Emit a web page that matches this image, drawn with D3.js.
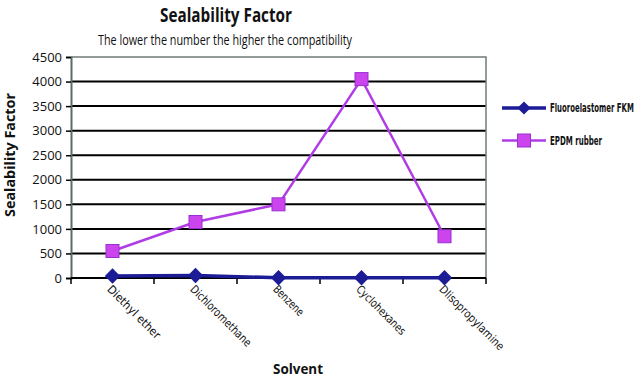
<!DOCTYPE html>
<html>
<head>
<meta charset="utf-8">
<script src="https://cdn.jsdelivr.net/npm/d3@7"></script>
<style>
  body { margin: 0; background: #fff; }
  svg { display: block; }
</style>
</head>
<body>
<div id="chart"></div>
<script>
// data
var solvents = ["Diethyl ether", "Dichloromethane", "Benzene", "Cyclohexanes", "DIisopropylamine"];
var fkmValues = [40, 50, 5, 5, 5];
var epdmValues = [550, 1140, 1500, 4050, 850];
var yTicks = [0, 500, 1000, 1500, 2000, 2500, 3000, 3500, 4000, 4500];
var seriesNames = ["Fluoroelastomer FKM", "EPDM rubber"];

var W = 640, H = 384;
var plot = {left: 71, right: 486, top: 57, bottom: 278};
var font = "'Open Sans', 'Noto Sans', sans-serif";
var narrow = "'DejaVu Sans Condensed', 'Open Sans', sans-serif";

var svg = d3.select("#chart").append("svg")
    .attr("width", W).attr("height", H);

var x = d3.scaleBand().domain(solvents).range([plot.left, plot.right]).padding(0);
var y = d3.scaleLinear().domain([0, 4500]).range([plot.bottom, plot.top]);

// squeeze a text to a width like the condensed face in the reference
function squeeze(sel, w) {
    sel.attr("textLength", w).attr("lengthAdjust", "spacingAndGlyphs");
}

// gridlines
svg.append("g").selectAll("line").data(yTicks.slice(1, -1)).join("line")
    .attr("x1", plot.left).attr("x2", plot.right)
    .attr("y1", function (d) { return y(d); }).attr("y2", function (d) { return y(d); })
    .attr("stroke", "#000").attr("stroke-width", 2);

// top & right border
svg.append("path")
    .attr("d", "M" + plot.left + "," + y(4500) + "H" + plot.right + "V" + plot.bottom)
    .attr("fill", "none").attr("stroke", "#6f7a7a").attr("stroke-width", 1.5);

// y axis
var yAxis = svg.append("g")
    .attr("transform", "translate(" + plot.left + ",0)")
    .call(d3.axisLeft(y).tickValues(yTicks).tickFormat(d3.format("d")).tickSize(5).tickPadding(4));
yAxis.select(".domain").attr("stroke", "#5f6b6b").attr("stroke-width", 2);
yAxis.selectAll(".tick line").attr("stroke", "#000").attr("stroke-width", 1.5);
yAxis.selectAll("text").attr("font-family", font).attr("font-size", 13).attr("fill", "#111");

// x axis: base line at zero plus ticks between categories
svg.append("line")
    .attr("x1", plot.left).attr("x2", plot.right)
    .attr("y1", y(0)).attr("y2", y(0))
    .attr("stroke", "#000").attr("stroke-width", 2);
var bounds = solvents.map(function (d) { return x(d); }).concat([plot.right]);
svg.append("g").selectAll("line").data(bounds).join("line")
    .attr("x1", function (d) { return d; }).attr("x2", function (d) { return d; })
    .attr("y1", y(0)).attr("y2", y(0) + 6)
    .attr("stroke", "#000").attr("stroke-width", 1.5);

svg.append("g").selectAll("text").data(solvents).join("text")
    .attr("transform", function (d) {
        return "translate(" + (x(d) + x.bandwidth() / 2 - 6) + "," + (y(0) + 12) + ") rotate(45)";
    })
    .attr("font-family", narrow).attr("font-size", 11.5).attr("fill", "#111")
    .each(function (d) { squeeze(d3.select(this), d.length * 5.4); })
    .text(function (d) { return d; });

// series
var cx = function (d, i) { return x(solvents[i]) + x.bandwidth() / 2; };
var line = d3.line().x(cx).y(function (d) { return y(d); });

svg.append("path").datum(epdmValues)
    .attr("d", line).attr("fill", "none")
    .attr("stroke", "#b03ce6").attr("stroke-width", 2.5);
svg.append("g").selectAll("rect").data(epdmValues).join("rect")
    .attr("x", function (d, i) { return cx(d, i) - 6.5; })
    .attr("y", function (d) { return y(d) - 6.5; })
    .attr("width", 13).attr("height", 13)
    .attr("fill", "#cc44ee").attr("stroke", "#9a2fd0").attr("stroke-width", 1);

svg.append("path").datum(fkmValues)
    .attr("d", line).attr("fill", "none")
    .attr("stroke", "#1c1c96").attr("stroke-width", 3.5);
svg.append("g").selectAll("path").data(fkmValues).join("path")
    .attr("d", d3.symbol(d3.symbolDiamond2, 150))
    .attr("transform", function (d, i) { return "translate(" + cx(d, i) + "," + y(d) + ")"; })
    .attr("fill", "#1c1c96");

// titles
svg.append("text").attr("x", 226).attr("y", 22).attr("text-anchor", "middle")
    .attr("font-family", font).attr("font-weight", "bold").attr("font-size", 20)
    .attr("fill", "#111").call(squeeze, 132).text("Sealability Factor");
svg.append("text").attr("x", 225).attr("y", 45).attr("text-anchor", "middle")
    .attr("font-family", font).attr("font-size", 14)
    .attr("fill", "#111").call(squeeze, 254).text("The lower the number the higher the compatibility");
svg.append("text")
    .attr("transform", "translate(15,155) rotate(-90)")
    .attr("text-anchor", "middle")
    .attr("font-family", font).attr("font-weight", "bold").attr("font-size", 14)
    .attr("fill", "#111").call(squeeze, 124).text("Sealability Factor");
svg.append("text").attr("x", 298).attr("y", 374).attr("text-anchor", "middle")
    .attr("font-family", font).attr("font-weight", "bold").attr("font-size", 14)
    .attr("fill", "#111").call(squeeze, 50).text("Solvent");

// legend
var legend = svg.append("g").attr("transform", "translate(502,108)");
var items = legend.selectAll("g").data(seriesNames).join("g")
    .attr("transform", function (d, i) { return "translate(0," + (i * 32.5) + ")"; });
items.append("line").attr("x1", 0).attr("x2", 44).attr("y1", 0).attr("y2", 0)
    .attr("stroke", function (d, i) { return i ? "#b03ce6" : "#1c1c96"; })
    .attr("stroke-width", function (d, i) { return i ? 2.5 : 3.5; });
items.each(function (d, i) {
    var g = d3.select(this);
    if (i === 0) {
        g.append("path").attr("d", d3.symbol(d3.symbolDiamond2, 110))
            .attr("transform", "translate(22,0)").attr("fill", "#1c1c96");
    } else {
        g.append("rect").attr("x", 15.5).attr("y", -6.5).attr("width", 13).attr("height", 13)
            .attr("fill", "#cc44ee").attr("stroke", "#9a2fd0");
    }
});
// legend labels: narrowed with a horizontal scale so the box stays inside the page
items.append("text")
    .attr("font-family", narrow).attr("font-weight", "bold").attr("font-size", 11.5)
    .attr("fill", "#111")
    .text(function (d) { return d; })
    .each(function (d, i) {
        var want = i ? 52 : 84;
        var sx = want / this.getComputedTextLength();
        d3.select(this).attr("transform", "translate(48,4) scale(" + sx + ",1)");
    });
</script>
</body>
</html>
